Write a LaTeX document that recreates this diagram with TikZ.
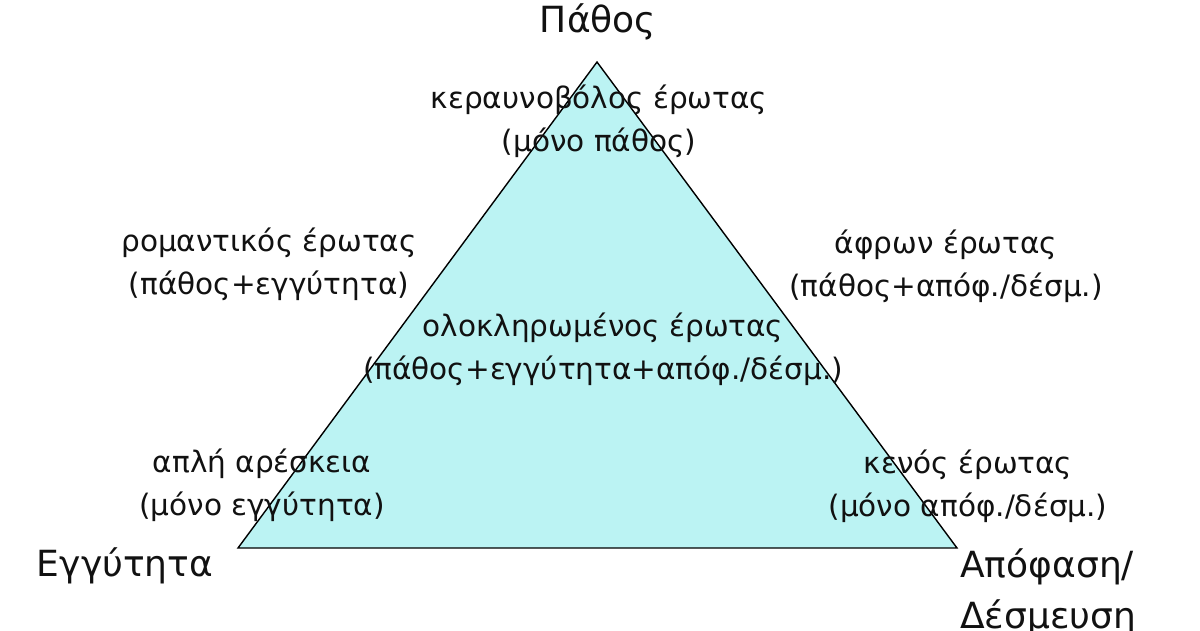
\documentclass[tikz,border=0pt]{standalone}
\usepackage{fontspec}
\setmainfont{DejaVu Sans}
\usetikzlibrary{positioning}
\definecolor{trifill}{HTML}{BBF3F3}
\definecolor{ink}{HTML}{111111}
\tikzset{
  kind/.style = {align=center, text=ink, font=\fontsize{16.8}{24.5}\selectfont,
                 inner sep=0pt},
  pole/.style = {text=ink, font=\fontsize{20.5}{28}\selectfont, inner sep=0pt},
  tri/.style  = {draw=black, fill=trifill, line width=0.8pt},
}
\begin{document}
\begin{tikzpicture}[x=0.02cm, y=-0.02cm]
  \useasboundingbox (0,0) rectangle (1200,630);
  \clip (0,0) rectangle (1200,630);

  % triangle
  \coordinate (top)   at (597,62);
  \coordinate (left)  at (238,548);
  \coordinate (right) at (957,548);
  \draw[tri] (top) -- (left) -- (right) -- cycle;

  % corners
  \node[pole] (pathos) at (598,22) {Πάθος};
  \node[pole] (engy) at (125,566) {Εγγύτητα};
  \node[pole, anchor=west, align=left, font=\fontsize{20.5}{29}\selectfont]
       (apof) at (960,592) {Απόφαση/\\Δέσμευση};

  % kinds of love
  \node[kind] (kerav) at (599,121) {κεραυνοβόλος έρωτας\\(μόνο πάθος)};
  \node[kind] (roman) at (269,264) {ρομαντικός έρωτας\\(πάθος+εγγύτητα)};
  \node[kind] (afron) at (946,266) {άφρων έρωτας\\(πάθος+απόφ./δέσμ.)};
  \node[kind] (olokl) at (603,349) {ολοκληρωμένος έρωτας\\(πάθος+εγγύτητα+απόφ./δέσμ.)};
  \node[kind] (apli)  at (262,485) {απλή αρέσκεια\\(μόνο εγγύτητα)};
  \node[kind] (kenos) at (968,486) {κενός έρωτας\\(μόνο απόφ./δέσμ.)};

\end{tikzpicture}
\end{document}
